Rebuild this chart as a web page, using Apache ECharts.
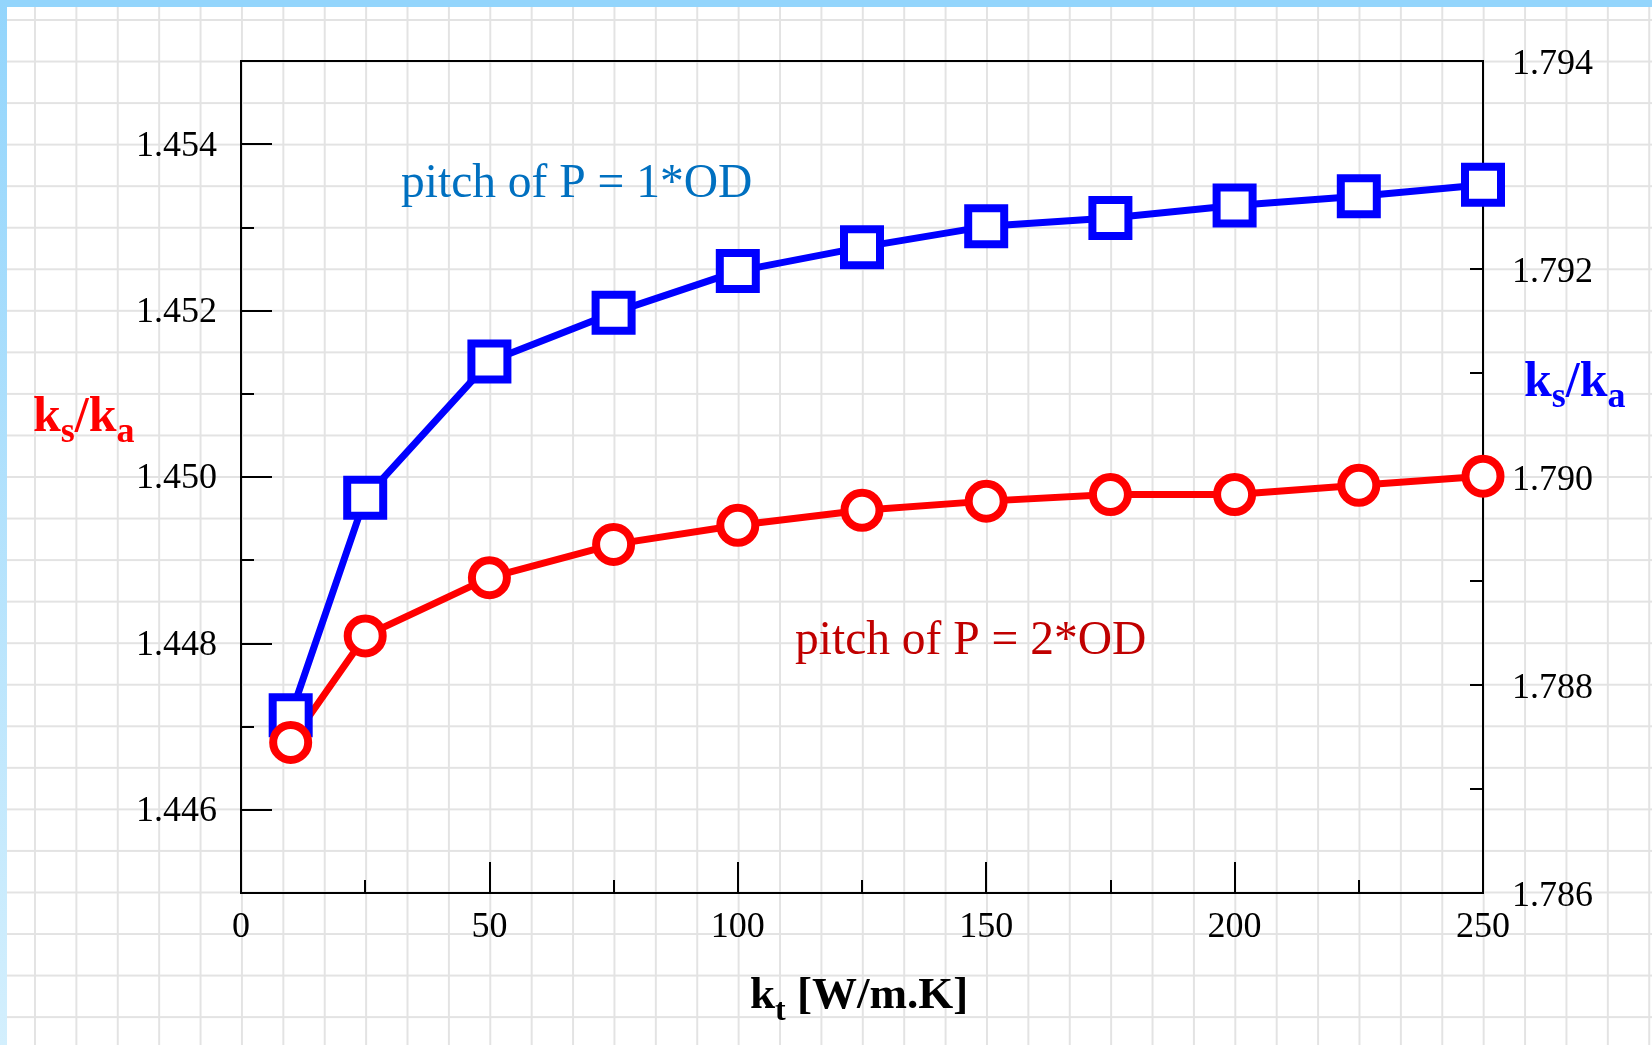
<!DOCTYPE html>
<html>
<head>
<meta charset="utf-8">
<script src="https://cdn.jsdelivr.net/npm/echarts@6/dist/echarts.min.js"></script>
<style>
  html, body { margin: 0; padding: 0; background: #fff; }
  #paper {
    position: absolute; left: 0; top: 0; width: 1652px; height: 1045px;
    background-color: #fff;
    background-image:
      linear-gradient(to right, #e3e3e3 2px, transparent 2px),
      linear-gradient(to bottom, #e3e3e3 2px, transparent 2px);
    background-size: 41.4px 41.55px;
    background-position: 34px 19px;
  }
  #chart { position: absolute; left: 0; top: 0; width: 1652px; height: 1045px; }
  #barTop { position: absolute; left: 0; top: 0; width: 1652px; height: 7px; background: #93d5fc; }
  #barLeft { position: absolute; left: 0; top: 0; width: 7px; height: 1045px;
             background: linear-gradient(to bottom, #93d5fc, #d3effd); }
</style>
</head>
<body>
<div id="paper"></div>
<div id="chart"></div>
<div id="barTop"></div>
<div id="barLeft"></div>
<script>
// Thermal conductivity of the tube material (x axis)
const kt = [10, 25, 50, 75, 100, 125, 150, 175, 200, 225, 250];
// ks/ka for pitch P = 1*OD (right axis)
const ratioPitch1 = [1.78771, 1.78980, 1.79111, 1.79158, 1.79198, 1.79221, 1.79241, 1.79249, 1.79261, 1.79270, 1.79281];
// ks/ka for pitch P = 2*OD (left axis)
const ratioPitch2 = [1.44681, 1.44809, 1.44879, 1.44919, 1.44942, 1.44960, 1.44971, 1.44979, 1.44979, 1.44990, 1.45001];
// labelled (long) ticks on the left axis
const leftMajorTicks = [1.446, 1.448, 1.450, 1.452, 1.454];

const serif = '"Liberation Serif", "Times New Roman", serif';
const black = '#000';

function evenThousandths(v) {
  const m = Math.round(v * 1000);
  return m % 2 === 0 ? (m / 1000).toFixed(3) : '';
}

const tickLine = { color: black, width: 2 };

const chart = echarts.init(document.getElementById('chart'), null, { renderer: 'canvas' });

// k with a subscript, as rich text tokens
const subRich = (color, main, sub) => ({
  k: { fontFamily: serif, fontWeight: 'bold', fontSize: main, lineHeight: main, fill: color },
  s: { fontFamily: serif, fontWeight: 'bold', fontSize: sub, lineHeight: sub, padding: [30, 0, 0, 0], fill: color }
});

chart.setOption({
  animation: false,
  backgroundColor: 'transparent',
  grid: { left: 241, top: 61, right: 169, bottom: 152, show: true, borderColor: black, borderWidth: 2, backgroundColor: 'transparent' },
  xAxis: {
    type: 'value', min: 0, max: 250, interval: 50,
    axisLine: { lineStyle: tickLine },
    axisTick: { inside: true, length: 31, lineStyle: tickLine },
    minorTick: { show: true, splitNumber: 2, length: 13, lineStyle: tickLine },
    splitLine: { show: false },
    axisLabel: { fontFamily: serif, fontSize: 36, color: black, margin: 17 }
  },
  yAxis: [
    {
      type: 'value', position: 'left', min: 1.445, max: 1.455, interval: 0.001,
      axisLine: { show: true, lineStyle: tickLine },
      axisTick: { inside: true, length: 13, lineStyle: tickLine },
      splitLine: { show: false },
      axisLabel: { fontFamily: serif, fontSize: 36, color: black, margin: 24, verticalAlign: 'top', lineHeight: 4, formatter: evenThousandths }
    },
    {
      type: 'value', position: 'right', min: 1.786, max: 1.794, interval: 0.001,
      axisLine: { show: true, lineStyle: tickLine },
      axisTick: { inside: true, length: 13, lineStyle: tickLine },
      splitLine: { show: false },
      axisLabel: { fontFamily: serif, fontSize: 36, color: black, margin: 29, verticalAlign: 'top', lineHeight: 8, formatter: evenThousandths }
    },
    {
      type: 'value', position: 'left', min: 1.445, max: 1.455,
      axisLine: { show: false },
      axisTick: { show: true, inside: true, length: 31, lineStyle: tickLine, customValues: leftMajorTicks },
      axisLabel: { show: false },
      splitLine: { show: false }
    }
  ],
  series: [
    {
      name: 'pitch of P = 1*OD', type: 'line', yAxisIndex: 1, clip: false,
      data: kt.map((x, i) => [x, ratioPitch1[i]]),
      symbol: 'rect', symbolSize: 36, showAllSymbol: true,
      lineStyle: { color: '#0000ff', width: 7 },
      itemStyle: { color: '#ffffff', borderColor: '#0000ff', borderWidth: 8 },
      emphasis: { disabled: true }
    },
    {
      name: 'pitch of P = 2*OD', type: 'line', yAxisIndex: 0, clip: false,
      data: kt.map((x, i) => [x, ratioPitch2[i]]),
      symbol: 'circle', symbolSize: 35, showAllSymbol: true,
      lineStyle: { color: '#ff0000', width: 7 },
      itemStyle: { color: '#ffffff', borderColor: '#ff0000', borderWidth: 8 },
      emphasis: { disabled: true }
    }
  ],
  graphic: [
    { type: 'text', x: 401, y: 185, style: { text: 'pitch of P = 1*OD', fontFamily: serif, fontSize: 47.5, fill: '#0070c0', align: 'left', verticalAlign: 'middle' } },
    { type: 'text', x: 795, y: 642, style: { text: 'pitch of P = 2*OD', fontFamily: serif, fontSize: 47.5, fill: '#c00000', align: 'left', verticalAlign: 'middle' } },
    { type: 'text', x: 33, y: 393, style: { text: '{k|k}{s|s}{k|/k}{s|a}', rich: subRich('#ff0000', 50, 36), align: 'left', verticalAlign: 'top' } },
    { type: 'text', x: 1524, y: 358, style: { text: '{k|k}{s|s}{k|/k}{s|a}', rich: subRich('#0000ff', 50, 36), align: 'left', verticalAlign: 'top' } },
    { type: 'text', x: 750, y: 974, style: { text: '{k|k}{s|t}{k| [W/m.K]}', rich: subRich('#000000', 45, 32), align: 'left', verticalAlign: 'top' } }
  ]
});
</script>
</body>
</html>
